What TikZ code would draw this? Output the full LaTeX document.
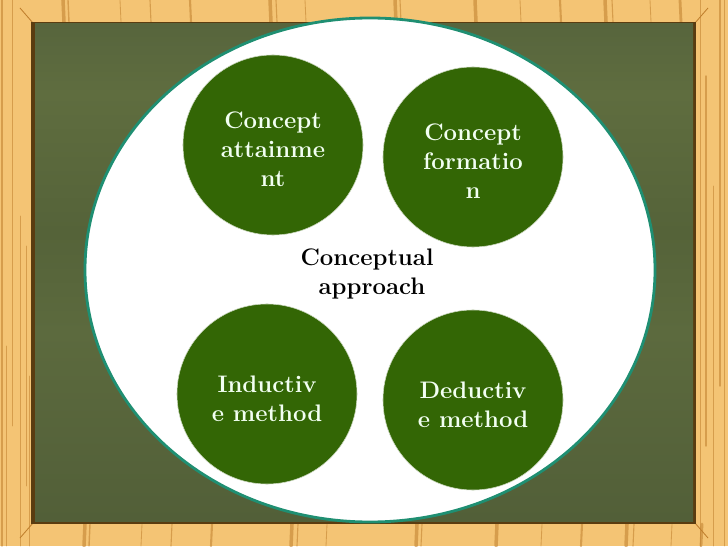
\documentclass[tikz,border=0pt]{standalone}
\usepackage{fontspec}
\newcommand{\fatface}{\bfseries\addfontfeature{FakeBold=5,LetterSpace=5}\fontsize{17}{20.6}\selectfont}
\newcommand{\dropline}{\rule{0pt}{18pt}}
\definecolor{woodlight}{HTML}{F4C474}
\definecolor{wooddark}{HTML}{BF7E2C}
\definecolor{boardedge}{HTML}{5A3C10}
\definecolor{rimteal}{HTML}{1F8F72}
\definecolor{discgreen}{HTML}{336605}
\definecolor{bandA}{HTML}{525F38}
\definecolor{bandC}{HTML}{5C6A3E}
\definecolor{bandD}{HTML}{556339}
\definecolor{bandE}{HTML}{5F6D3F}
\definecolor{bandF}{HTML}{57653D}
\pgfdeclareverticalshading{boardband}{100bp}{
  color(0bp)=(bandA);
  color(25bp)=(bandA);
  color(44bp)=(bandC);
  color(54bp)=(bandD);
  color(68bp)=(bandE);
  color(75bp)=(bandF);
  color(100bp)=(bandF)
}
\tikzset{
  disc/.style={circle,fill=discgreen,draw=discgreen!25!white,line width=0.4pt,minimum size=4.5cm,inner sep=0pt,
    text=white!95!green,align=center,font=\fatface},
  caption/.style={text=black,align=center,font=\fatface},
  grain/.style={wooddark,opacity=0.55,line cap=round},
}
\begin{document}
\begin{tikzpicture}[x=0.025cm,y=0.025cm]
    \useasboundingbox (0,0) rectangle (728,546);
    % frame
    \fill [woodlight] (0,0) rectangle (728,546);
    \foreach \xpos / \wid in {63/2.5,68/1,120/0.6,150/0.8,190/1.5,270/2.5,276/0.8,305/0.6,395/2.5,400/0.8,475/2.5,520/0.6,560/1.5,605/2.5,612/0.8,650/0.6,680/2}
    {
      \draw [grain,line width=\wid pt] (\xpos,546) -- (\xpos+1,524);
      \draw [grain,line width=\wid pt] (\xpos+22,22) -- (\xpos+21,0);
    }
    \foreach \xpos / \lo / \hi / \wid in {2/0/546/1,6/0/200/0.6,12/120/546/0.5,20/0/330/0.5,26/60/300/0.6,29/0/170/0.5,700/0/546/0.5,706/100/470/1,713/0/360/0.5,720/160/546/1,724/0/546/0.6}
    {
      \draw [grain,line width=\wid pt] (\xpos,\lo) -- (\xpos,\hi);
    }
    % corners of the frame
    \draw [wooddark,line width=0.6pt] (33,23) -- (20,8);
    \draw [wooddark,line width=0.6pt] (33,523) -- (20,538);
    \draw [wooddark,line width=0.6pt] (695,23) -- (708,8);
    \draw [wooddark,line width=0.6pt] (695,523) -- (708,538);
    % board
    \fill [boardedge] (31,22) rectangle (696,524);
    \shade [shading=boardband] (35,25) rectangle (693,522);
    % big ellipse
    \draw [fill=white,draw=rimteal,line width=2pt] (370,276) ellipse (285 and 252);
    % discs
    \node [disc] (attain) at (273,401) {\dropline Concept\\attainme\\nt};
    \node [disc] (form) at (473,389) {\dropline Concept\\formatio\\n};
    \node [disc] (induct) at (267,152) {\dropline Inductiv\\e method};
    \node [disc] (deduct) at (473,146) {\dropline Deductiv\\e method};
    \node [caption] (concept) at (367,272) {Conceptual\\\hspace*{7pt}approach};
\end{tikzpicture}
\end{document}
